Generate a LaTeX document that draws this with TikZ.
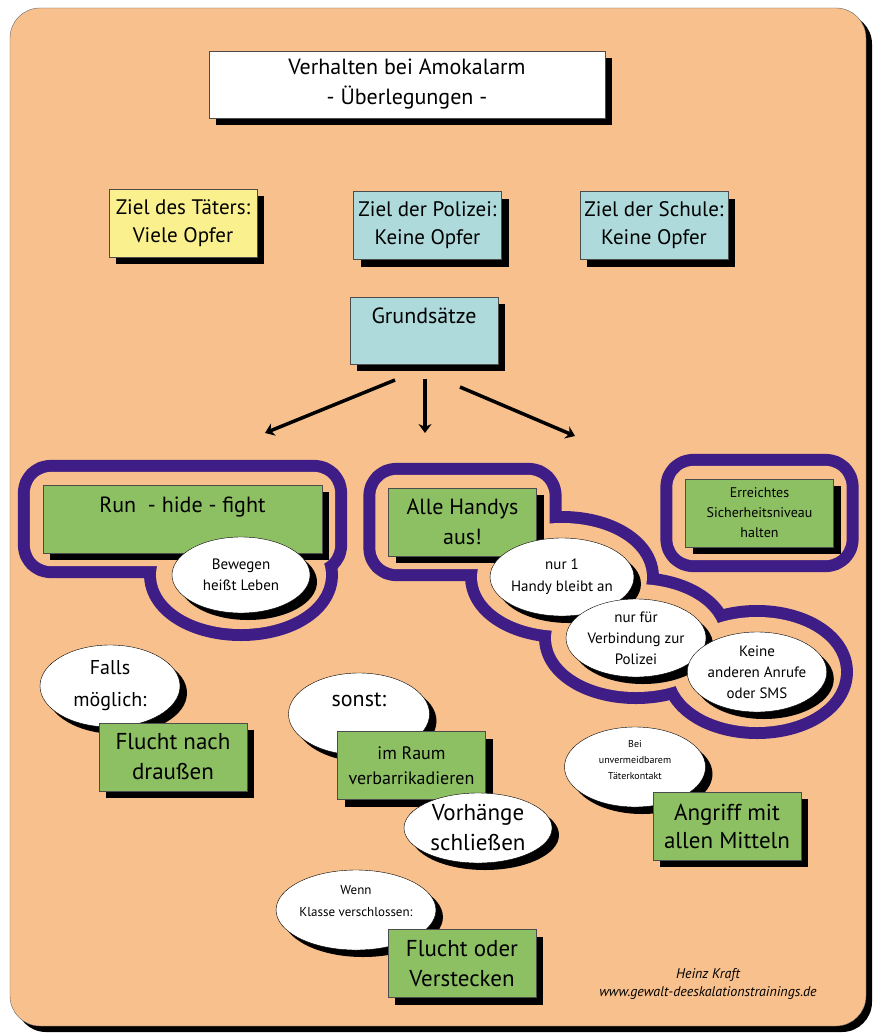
\documentclass[tikz,border=0pt]{standalone}
\usepackage{fontspec}
\setmainfont{PT Sans}
\usetikzlibrary{shapes.geometric,shadows,arrows.meta,backgrounds}

\definecolor{bgorange}{HTML}{F8C08C}
\definecolor{boxgreen}{HTML}{8DC063}
\definecolor{boxblue}{HTML}{AEDADB}
\definecolor{boxyellow}{HTML}{FAF08E}
\definecolor{ringpurple}{HTML}{3E1E86}
\newcommand{\fsz}[2]{\fontsize{#1}{#2}\selectfont}

\tikzset{
  card/.style={rectangle, draw=black!70, thin, align=center, inner sep=0pt,
    drop shadow={shadow xshift=7pt, shadow yshift=-7pt, opacity=1, fill=black}},
  greencard/.style={card, fill=boxgreen, minimum width=148pt, minimum height=68pt},
  bluecard/.style={card, fill=boxblue, minimum width=148pt, minimum height=68pt},
  bubble/.style={ellipse, draw=black, thin, fill=white, align=center, inner sep=0pt,
    drop shadow={shadow xshift=7pt, shadow yshift=-7pt, opacity=1, fill=black}},
  ringouter/.style={draw=ringpurple, fill=ringpurple, line width=50pt, line join=round, rounded corners=8pt},
  ringinner/.style={draw=bgorange, fill=bgorange, line width=26pt, line join=round, rounded corners=8pt},
  pointer/.style={line width=3.5pt, -{Stealth[length=9pt,width=13pt]}}
}

\begin{document}
\begin{tikzpicture}[x=1pt, y=-1pt]
	\useasboundingbox (0,0) rectangle (875,1033);
	% heading and goals
	\node (title) [card, fill=white, minimum width=396pt, minimum height=67pt, font=\fsz{22}{30}]
		at (407,84.5) {Verhalten bei Amokalarm\\- Überlegungen -};
	\node (taeter) [card, fill=boxyellow, minimum width=148pt, minimum height=68pt, font=\fsz{21}{28}]
		at (183,223) {Ziel des Täters:\\Viele Opfer};
	\node (polizei) [bluecard, font=\fsz{21}{28}] at (427.5,225.5) {Ziel der Polizei:\\Keine Opfer};
	\node (schule) [bluecard, font=\fsz{21}{28}] at (654,225.5) {Ziel der Schule:\\Keine Opfer};
	\node (grund) [bluecard, minimum height=0pt, anchor=base, text height=26pt, text depth=41pt,
		font=\fsz{22}{28}] at (424,323) {Grundsätze};
	% arrows
	\coordinate (a1s) at (395,380); \coordinate (a1e) at (265,433);
	\coordinate (a2s) at (425,379); \coordinate (a2e) at (425,433);
	\coordinate (a3s) at (460,387); \coordinate (a3e) at (575,436);
	\draw [pointer] (a1s) -- (a1e);
	\draw [pointer] (a2s) -- (a2e);
	\draw [pointer] (a3s) -- (a3e);
	% run - hide - fight
	\node (run) [greencard, minimum width=279pt, minimum height=0pt, anchor=base,
		text height=27pt, text depth=41pt, font=\fsz{22}{28}] at (182.5,512) {Run ~- hide - fight};
	\node (bewegen) [bubble, minimum width=138pt, minimum height=76pt, font=\fsz{15}{21}]
		at (241,575) {Bewegen\\heißt Leben};
	% handys
	\node (handys) [greencard, font=\fsz{22}{30}] at (462.5,522) {Alle Handys\\aus!};
	\node (nureins) [bubble, minimum width=140pt, minimum height=78pt, font=\fsz{15}{22}]
		at (562,577) {nur 1\\Handy bleibt an};
	\node (nurfuer) [bubble, minimum width=140pt, minimum height=78pt, font=\fsz{15}{21}]
		at (636,638) {nur für\\Verbindung zur\\Polizei};
	\node (keine) [bubble, minimum width=138pt, minimum height=80pt, font=\fsz{15}{21}]
		at (757,672) {Keine\\anderen Anrufe\\oder SMS};
	% sicherheitsniveau
	\node (sicher) [greencard, font=\fsz{14}{20}] at (759.5,513) {Erreichtes\\Sicherheitsniveau\\halten};
	% flucht
	\node (falls) [bubble, minimum width=140pt, minimum height=82pt, font=\fsz{20}{32}]
		at (110,686) {Falls\\möglich:};
	\node (draussen) [greencard, font=\fsz{23}{30}] at (173,757) {Flucht nach\\draußen};
	% verbarrikadieren
	\node (sonst) [bubble, minimum width=141pt, minimum height=82pt, text depth=28pt, font=\fsz{22}{28}]
		at (359,714) {sonst:};
	\node (raum) [greencard, font=\fsz{18}{25}] at (411.5,765.5) {im Raum\\verbarrikadieren};
	\node (vorhang) [bubble, minimum width=148pt, minimum height=70pt, font=\fsz{23}{30}]
		at (478,828) {Vorhänge\\schließen};
	% angriff
	\node (bei) [bubble, minimum width=141pt, minimum height=80pt, text depth=14pt, font=\fsz{10}{16}]
		at (635,767) {Bei\\unvermeidbarem\\Täterkontakt};
	\node (angriff) [greencard, font=\fsz{23}{28}] at (727,826) {Angriff mit\\allen Mitteln};
	% verstecken
	\node (wenn) [bubble, minimum width=142pt, minimum height=80pt, text depth=18pt, font=\fsz{13}{22}]
		at (356,910) {Wenn\\Klasse verschlossen:};
	\node (versteck) [greencard, font=\fsz{23}{30}] at (462,963.5) {Flucht oder\\Verstecken};
	% credit
	\node (credit) [align=center, font=\fsz{14}{18}\itshape] at (708,984)
		{Heinz Kraft\\www.gewalt-deeskalationstrainings.de};
	% sheet and purple rings
	\begin{pgfonlayer}{background}
		\fill [black, rounded corners=30pt] (16,14) rectangle (872,1032);
		\filldraw [fill=bgorange, draw=black!60, rounded corners=30pt] (10,8) rectangle (866,1026);
		\foreach \ring in {ringouter,ringinner} {
			\path [\ring] (run.north west) rectangle (run.south east);
			\path [\ring] (bewegen.center) ellipse [x radius=72, y radius=41];
			\path [\ring] (handys.north west) rectangle (handys.south east);
			\path [\ring] (nureins.center) ellipse [x radius=72, y radius=41];
			\path [\ring] (nurfuer.center) ellipse [x radius=72, y radius=41];
			\path [\ring] (keine.center) ellipse [x radius=71, y radius=42];
			\path [\ring] (sicher.north west) rectangle (sicher.south east);
		}
	\end{pgfonlayer}
\end{tikzpicture}
\end{document}
